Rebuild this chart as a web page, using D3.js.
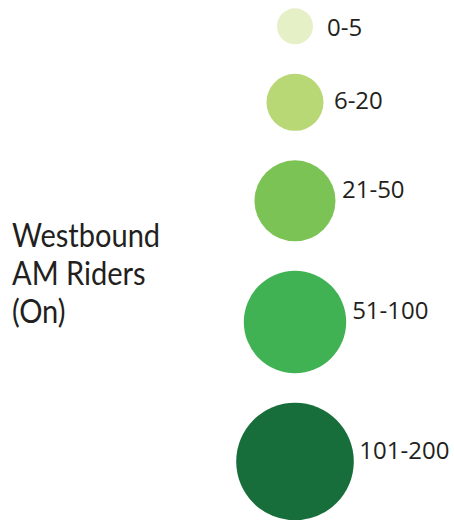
<!DOCTYPE html>
<html>
<head>
<meta charset="utf-8">
<script src="https://cdn.jsdelivr.net/npm/d3@7"></script>
<style>
  html, body { margin: 0; padding: 0; background: #fff; }
  svg { display: block; }
</style>
</head>
<body>
<svg width="454" height="520"></svg>
<script>
const classes = ['0-5', '6-20', '21-50', '51-100', '101-200'];
const titleLines = ['Westbound', 'AM Riders', '(On)'];

const svg = d3.select('svg');
const cx = 295;
const top0 = 8.3;
const gap = 29.5;

const r = d3.scaleOrdinal().domain(classes).range([18, 28.5, 40.5, 51.2, 58.8]);
const color = d3
  .scaleOrdinal()
  .domain(classes)
  .range(['#e6f0c7', '#b8d775', '#7cc356', '#40b254', '#176e3a']);

// label offsets depend on circle size
const labelDx = d3.scaleLinear().domain([18, 40, 60]).range([14, 6.5, 5.5]).clamp(true);
const labelDy = d3.scaleLinear().domain([18, 28.5, 40.5, 60]).range([9.4, 7, -3, -2.5]).clamp(true);

// stack circles top to bottom with an even gap
let y = top0;
const items = classes.map(c => {
  const cy = y + r(c);
  y += 2 * r(c) + gap;
  return { key: c, cy };
});

const g = svg.append('g').attr('class', 'legend');

const item = g
  .selectAll('g')
  .data(items)
  .enter()
  .append('g')
  .attr('transform', d => `translate(${cx}, ${d.cy})`);

item
  .append('circle')
  .attr('r', d => r(d.key))
  .attr('fill', d => color(d.key));

item
  .append('text')
  .attr('x', d => r(d.key) + labelDx(r(d.key)))
  .attr('y', d => labelDy(r(d.key)))
  .attr('font-family', '"Open Sans", sans-serif')
  .attr('font-size', 24)
  .attr('fill', '#231f20')
  .text(d => d.key);

// Title (squeezed a little to mimic the narrower original face)
svg
  .append('text')
  .attr('transform', 'translate(12, 0) scale(0.88, 1)')
  .attr('font-family', 'Lato, sans-serif')
  .attr('font-size', 33)
  .attr('fill', '#231f20')
  .selectAll('tspan')
  .data(titleLines)
  .enter()
  .append('tspan')
  .attr('x', 0)
  .attr('y', (d, i) => 246.7 + i * 38.2)
  .text(d => d);
</script>
</body>
</html>
